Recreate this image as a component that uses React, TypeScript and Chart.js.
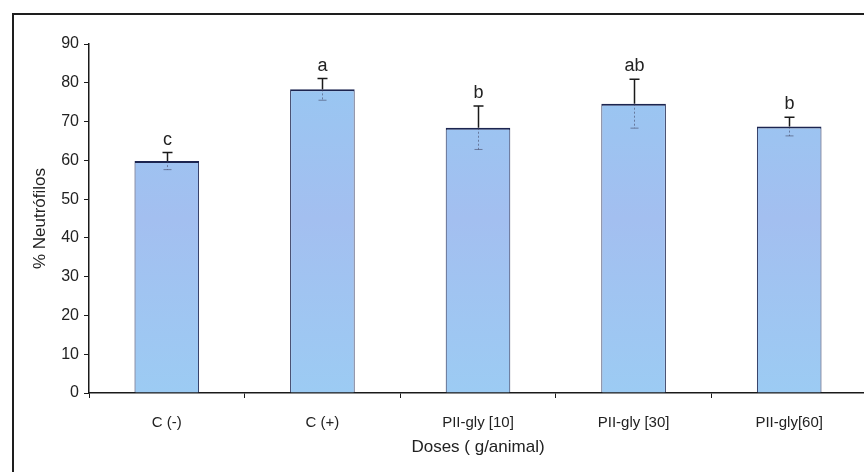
import React, { useEffect, useRef } from "react";
import { Chart, registerables } from "chart.js";

Chart.register(...registerables);

const categories = ["C (-)", "C (+)", "PII-gly [10]", "PII-gly [30]", "PII-gly[60]"];
const means = [59.8, 78.3, 68.4, 74.6, 68.7];
const errors = [2.2, 2.8, 5.6, 6.3, 2.4];
const letters = ["c", "a", "b", "ab", "b"];
const yTicks = [0, 10, 20, 30, 40, 50, 60, 70, 80, 90];

const FONT = "'Liberation Sans', Arial, sans-serif";

const framePlugin = {
  id: "frame",
  beforeDraw(chart: any) {
    const ctx = chart.ctx;
    ctx.save();
    ctx.fillStyle = "#ffffff";
    ctx.fillRect(0, 0, chart.width, chart.height);
    ctx.strokeStyle = "#1e1e1e";
    ctx.lineWidth = 2;
    ctx.strokeRect(13, 14, chart.width + 20, chart.height + 20);
    ctx.restore();
  },
};

const errorPlugin = {
  id: "errorbars",
  afterDatasetsDraw(chart: any) {
    const ctx = chart.ctx;
    const meta = chart.getDatasetMeta(0);
    const yScale = chart.scales.y;
    ctx.save();
    meta.data.forEach((bar: any, i: number) => {
      const x = Math.round(bar.x) + 0.5;
      const top = yScale.getPixelForValue(means[i] + errors[i]);
      const barTop = yScale.getPixelForValue(means[i]);
      const low = yScale.getPixelForValue(means[i] - errors[i]);
      ctx.strokeStyle = "#1a1a1a";
      ctx.lineWidth = 1.5;
      ctx.beginPath();
      ctx.moveTo(x, barTop);
      ctx.lineTo(x, top);
      ctx.moveTo(x - 5, top);
      ctx.lineTo(x + 5, top);
      ctx.stroke();
      ctx.strokeStyle = "rgba(60,60,90,0.55)";
      ctx.lineWidth = 1;
      ctx.setLineDash([2, 2]);
      ctx.beginPath();
      ctx.moveTo(x, barTop);
      ctx.lineTo(x, low);
      ctx.stroke();
      ctx.setLineDash([]);
      ctx.beginPath();
      ctx.moveTo(x - 4, low);
      ctx.lineTo(x + 4, low);
      ctx.stroke();
      ctx.fillStyle = "#222";
      ctx.font = `18px ${FONT}`;
      ctx.textAlign = "center";
      ctx.textBaseline = "alphabetic";
      ctx.fillText(letters[i], x, top - 8);
    });
    ctx.restore();
  },
};

export default function App() {
  const ref = useRef<HTMLCanvasElement | null>(null);

  useEffect(() => {
    if (!ref.current) return;
    const chart = new Chart(ref.current, {
      type: "bar",
      data: {
        labels: categories,
        datasets: [
          {
            data: means,
            backgroundColor: (c: any) => {
              const area = c.chart.chartArea;
              if (!area) return "#9cc8f2";
              const g = c.chart.ctx.createLinearGradient(0, area.top, 0, area.bottom);
              g.addColorStop(0, "#96c8f2");
              g.addColorStop(0.5, "#a3bff0");
              g.addColorStop(1, "#9ccbf3");
              return g;
            },
            borderColor: "#1c2550",
            borderWidth: { top: 2, left: 1, right: 1, bottom: 0 },
            borderSkipped: "bottom",
            barPercentage: 0.415,
            categoryPercentage: 1,
          },
        ],
      },
      options: {
        animation: false,
        responsive: false,
        devicePixelRatio: 1,
        layout: { padding: { left: 0, top: 44, right: 5, bottom: 0 } },
        plugins: {
          legend: { display: false },
          tooltip: { enabled: false },
        },
        scales: {
          x: {
            offset: true,
            grid: {
              offset: true,
              drawOnChartArea: false,
              drawTicks: true,
              tickLength: 5,
              color: "#1a1a1a",
              lineWidth: 1,
            },
            border: { color: "#1a1a1a", width: 1.5 },
            ticks: {
              color: "#222",
              font: { family: FONT, size: 15 },
              padding: 16,
              maxRotation: 0,
            },
            title: {
              display: true,
              text: "Doses ( g/animal)",
              color: "#222",
              font: { family: FONT, size: 17 },
              padding: { top: 0, bottom: 14 },
            },
            afterFit: (s: any) => {
              s.height = 79;
            },
          },
          y: {
            min: 0,
            max: 90,
            afterBuildTicks: (s: any) => {
              s.ticks = yTicks.map((v) => ({ value: v }));
            },
            grid: {
              drawOnChartArea: false,
              drawTicks: true,
              tickLength: 5,
              color: "#1a1a1a",
              lineWidth: 1,
            },
            border: { color: "#1a1a1a", width: 1.5 },
            ticks: {
              color: "#222",
              font: { family: FONT, size: 16 },
              padding: 5,
            },
            title: {
              display: true,
              text: "% Neutrófilos",
              color: "#222",
              font: { family: FONT, size: 17 },
              padding: { top: 30, bottom: 0 },
            },
            afterFit: (s: any) => {
              s.width = 89;
            },
          },
        },
      },
      plugins: [framePlugin, errorPlugin],
    });
    return () => chart.destroy();
  }, []);

  return (
    <div
      style={{
        position: "absolute",
        left: 0,
        top: 0,
        width: 864,
        height: 472,
        overflow: "hidden",
        background: "#fff",
      }}
    >
      <canvas ref={ref} width={872} height={472} style={{ width: 872, height: 472, display: "block" }} />
    </div>
  );
}
